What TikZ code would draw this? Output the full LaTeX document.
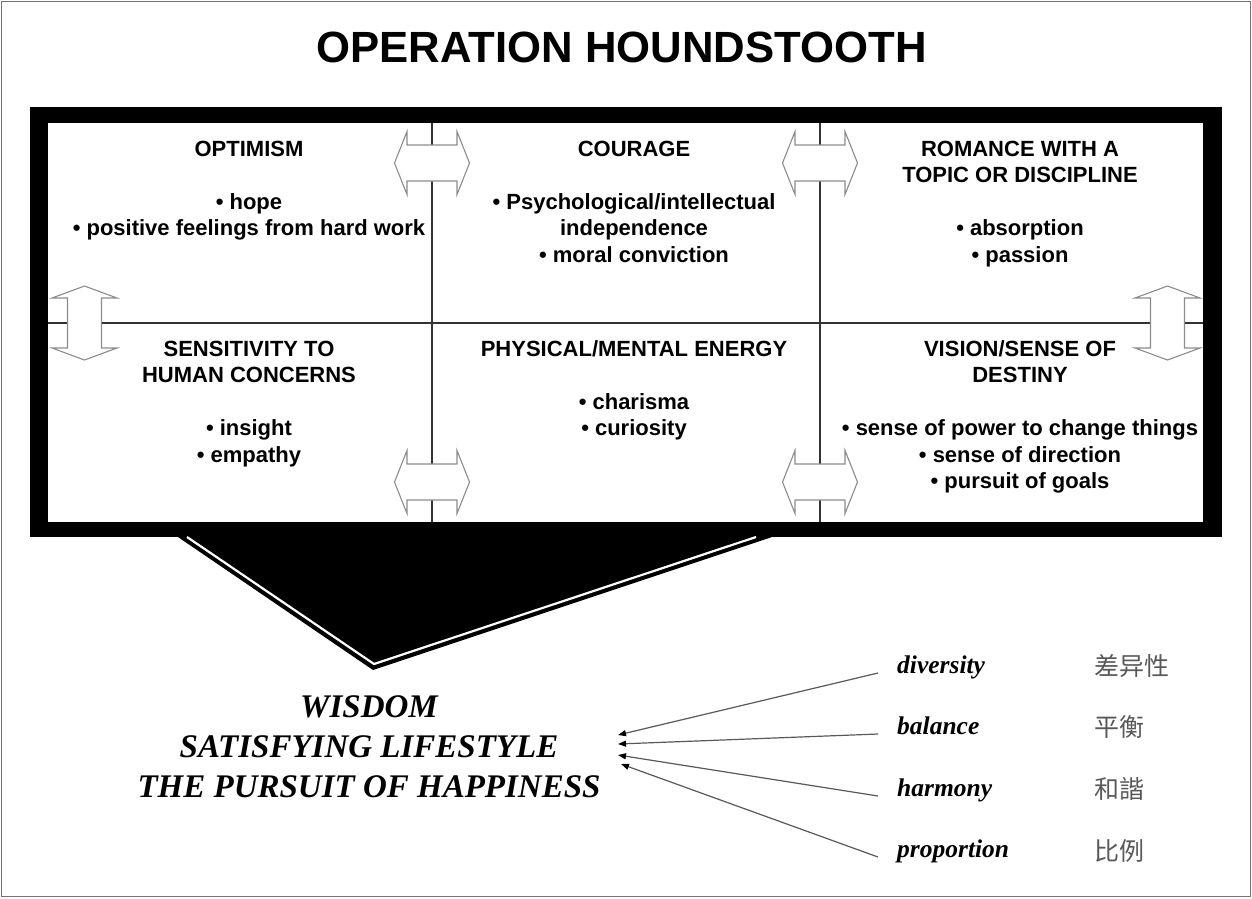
\documentclass[tikz,border=0pt]{standalone}
\usepackage{fontspec}
\setmainfont{Liberation Serif}
\newfontfamily\arialf{Liberation Sans}
\newfontfamily\cjkf{Noto Sans CJK SC}
\usetikzlibrary{arrows.meta}
\begin{document}
\begin{tikzpicture}[x=1pt,y=-1pt,
  gridline/.style={draw=black!80,line width=1.4pt},
  arrowshape/.style={draw=black!45,fill=white,line width=1.1pt,line join=miter},
  celltext/.style={anchor=north,inner sep=0pt,align=center,
     font=\arialf\bfseries\fontsize{22}{26.5}\selectfont},
  wordtext/.style={anchor=base west,inner sep=0pt,
     font=\bfseries\itshape\fontsize{25.5}{30}\selectfont},
  cjktext/.style={anchor=west,inner sep=0pt,text=black!65,
     font=\cjkf\fontsize{25}{30}\selectfont},
  conn/.style={draw=black!65,line width=1.2pt,
     -{Triangle[length=8pt,width=6pt,color=black,fill=black]}},
  harr/.pic={\filldraw[arrowshape] (-37.5,0) -- (-25,-31.5) -- (-25,-18) -- (25,-18) -- (25,-31.5)
      -- (37.5,0) -- (25,31.5) -- (25,18) -- (-25,18) -- (-25,31.5) -- cycle;},
  varr/.pic={\filldraw[arrowshape] (0,-37) -- (32.5,-25) -- (17,-25) -- (17,25) -- (32.5,25)
      -- (0,37) -- (-32.5,25) -- (-17,25) -- (-17,-25) -- (-32.5,-25) -- cycle;}
]
\useasboundingbox (0,0) rectangle (1252,898);
\fill[white] (0,0) rectangle (1252,898);
\draw[black!55,line width=1.6pt] (1.5,1.5) rectangle (1250.5,896.5);

% title
\node[anchor=base,inner sep=0pt,font=\arialf\bfseries\fontsize{43.7}{50}\selectfont] (title) at (621.5,62) {OPERATION HOUNDSTOOTH};

% funnel
\fill[black] (167.7,530) -- (793,530) -- (373,670) -- cycle;
% frame
\fill[black] (30,107) rectangle (1222,537);
\fill[white] (48,123) rectangle (1203,522);
\draw[white,line width=2.2pt,line join=miter] (187,537) -- (374,664) -- (756,537);

% grid
\draw[gridline] (48,323) -- (1203,323);
\draw[gridline] (432,123) -- (432,522);
\draw[gridline] (820,123) -- (820,522);

% double arrows
\pic at (432,163) {harr};
\pic at (820,163) {harr};
\pic at (432,482) {harr};
\pic at (820,482) {harr};
\pic at (84.5,323) {varr};
\pic at (1167.5,323) {varr};

% cells
\node[celltext] (c1) at (249,140) {\rule{0pt}{16pt}OPTIMISM\\[26.5pt]• hope\\• positive feelings from hard work};
\node[celltext] (c2) at (634,140) {\rule{0pt}{16pt}COURAGE\\[26.5pt]• Psychological/intellectual\\independence\\• moral conviction};
\node[celltext] (c3) at (1020,140) {\rule{0pt}{16pt}ROMANCE WITH A\\TOPIC OR DISCIPLINE\\[26.5pt]• absorption\\• passion};
\node[celltext] (c4) at (249,340) {\rule{0pt}{16pt}SENSITIVITY TO\\HUMAN CONCERNS\\[26.5pt]• insight\\• empathy};
\node[celltext] (c5) at (634,340) {\rule{0pt}{16pt}PHYSICAL/MENTAL ENERGY\\[26.5pt]• charisma\\• curiosity};
\node[celltext] (c6) at (1020,340) {\rule{0pt}{16pt}VISION/SENSE OF\\DESTINY\\[26.5pt]• sense of power to change things\\• sense of direction\\• pursuit of goals};

% bottom text
\node[anchor=north,inner sep=0pt,align=center,font=\bfseries\itshape\fontsize{33}{40}\selectfont] (wis) at (369,695)
  {\rule{0pt}{22pt}WISDOM\\SATISFYING LIFESTYLE\\THE PURSUIT OF HAPPINESS};

% words
\node[wordtext] (w1) at (897,673) {diversity};
\node[wordtext] (w2) at (897,734) {balance};
\node[wordtext] (w3) at (897,796) {harmony};
\node[wordtext] (w4) at (897,857) {proportion};
\node[cjktext] (k1) at (1094,666) {差异性};
\node[cjktext] (k2) at (1094,727) {平衡};
\node[cjktext] (k3) at (1094,789) {和諧};
\node[cjktext] (k4) at (1094,851) {比例};

\coordinate (t1) at (618,735);
\coordinate (t2) at (618,744);
\coordinate (t3) at (618,755);
\coordinate (t4) at (621,764);
\draw[conn] ([xshift=-19pt]w1.base west) -- (t1);
\draw[conn] ([xshift=-19pt]w2.base west) -- (t2);
\draw[conn] ([xshift=-19pt]w3.base west) -- (t3);
\draw[conn] ([xshift=-19pt]w4.base west) -- (t4);
\end{tikzpicture}
\end{document}
